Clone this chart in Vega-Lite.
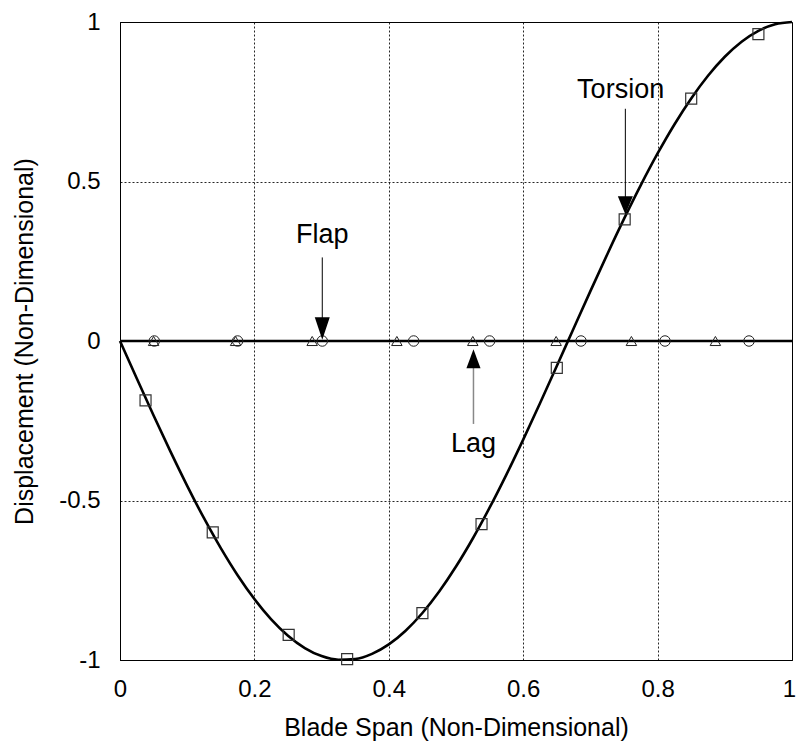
{
  "$schema": "https://vega.github.io/schema/vega-lite/v6.json",
  "width": 672,
  "height": 638,
  "autosize": {"type": "none"},
  "padding": {"left": 120, "top": 22, "right": 4, "bottom": 88},
  "background": "white",
  "config": {
    "view": {"stroke": "black", "strokeWidth": 1},
    "font": "Liberation Sans",
    "axis": {
      "domainColor": "black",
      "domainWidth": 1,
      "gridColor": "black",
      "gridDash": [2, 2],
      "gridWidth": 1,
      "gridOpacity": 0.85,
      "ticks": false,
      "labelFont": "Liberation Sans",
      "labelFontSize": 24,
      "labelColor": "black",
      "titleFont": "Liberation Sans",
      "titleFontSize": 25,
      "titleFontWeight": "normal",
      "titleColor": "black"
    }
  },
  "datasets": {
    "torsion_curve": [
      {"span": 0, "disp": 0}, {"span": 0.025, "disp": -0.1175}, {"span": 0.05, "disp": -0.2334},
      {"span": 0.075, "disp": -0.3461}, {"span": 0.1, "disp": -0.454}, {"span": 0.125, "disp": -0.5556},
      {"span": 0.15, "disp": -0.6494}, {"span": 0.175, "disp": -0.7343}, {"span": 0.2, "disp": -0.809},
      {"span": 0.225, "disp": -0.8725}, {"span": 0.25, "disp": -0.9239}, {"span": 0.275, "disp": -0.9625},
      {"span": 0.3, "disp": -0.9877}, {"span": 0.325, "disp": -0.9992}, {"span": 0.35, "disp": -0.9969},
      {"span": 0.375, "disp": -0.9808}, {"span": 0.4, "disp": -0.9511}, {"span": 0.425, "disp": -0.9081},
      {"span": 0.45, "disp": -0.8526}, {"span": 0.475, "disp": -0.7853}, {"span": 0.5, "disp": -0.7071},
      {"span": 0.525, "disp": -0.6191}, {"span": 0.55, "disp": -0.5225}, {"span": 0.575, "disp": -0.4187},
      {"span": 0.6, "disp": -0.309}, {"span": 0.625, "disp": -0.1951}, {"span": 0.65, "disp": -0.0785},
      {"span": 0.675, "disp": 0.0393}, {"span": 0.7, "disp": 0.1564}, {"span": 0.725, "disp": 0.2714},
      {"span": 0.75, "disp": 0.3827}, {"span": 0.775, "disp": 0.4886}, {"span": 0.8, "disp": 0.5878},
      {"span": 0.825, "disp": 0.6788}, {"span": 0.85, "disp": 0.7604}, {"span": 0.875, "disp": 0.8315},
      {"span": 0.9, "disp": 0.891}, {"span": 0.925, "disp": 0.9382}, {"span": 0.95, "disp": 0.9724},
      {"span": 0.975, "disp": 0.9931}, {"span": 1, "disp": 1}
    ],
    "flap_lag_curve": [
      {"span": 0, "disp": 0}, {"span": 1, "disp": 0}
    ],
    "flap_points": [
      {"span": 0.051, "disp": 0}, {"span": 0.175, "disp": 0}, {"span": 0.301, "disp": 0},
      {"span": 0.437, "disp": 0}, {"span": 0.55, "disp": 0}, {"span": 0.686, "disp": 0},
      {"span": 0.811, "disp": 0}, {"span": 0.936, "disp": 0}
    ],
    "lag_points": [
      {"span": 0.05, "disp": 0}, {"span": 0.172, "disp": 0}, {"span": 0.286, "disp": 0},
      {"span": 0.412, "disp": 0}, {"span": 0.525, "disp": 0}, {"span": 0.649, "disp": 0},
      {"span": 0.761, "disp": 0}, {"span": 0.886, "disp": 0}
    ],
    "torsion_points": [
      {"span": 0.038, "disp": -0.186}, {"span": 0.138, "disp": -0.6}, {"span": 0.251, "disp": -0.921},
      {"span": 0.338, "disp": -0.997}, {"span": 0.45, "disp": -0.853}, {"span": 0.538, "disp": -0.574},
      {"span": 0.65, "disp": -0.084}, {"span": 0.751, "disp": 0.381}, {"span": 0.85, "disp": 0.76},
      {"span": 0.95, "disp": 0.962}
    ],
    "labels": [
      {"label": "Flap", "span": 0.301, "disp": 0.306},
      {"label": "Lag", "span": 0.526, "disp": -0.348},
      {"label": "Torsion", "span": 0.745, "disp": 0.763}
    ],
    "shafts": [
      {"label": "Flap", "span": 0.301, "top": 0.262, "bottom": 0.07},
      {"label": "Torsion", "span": 0.752, "top": 0.728, "bottom": 0.45}
    ],
    "lag_shaft": [
      {"label": "Lag", "span": 0.526, "top": -0.08, "bottom": -0.26}
    ],
    "flap_head": [{"span": 0.301, "disp": 0.004}],
    "torsion_head": [{"span": 0.752, "disp": 0.397}],
    "lag_head": [{"span": 0.526, "disp": -0.026}]
  },
  "layer": [
    {
      "data": {"name": "flap_lag_curve"},
      "mark": {"type": "line", "color": "black", "strokeWidth": 2.6},
      "encoding": {
        "x": {
          "field": "span", "type": "quantitative",
          "scale": {"domain": [0, 1], "nice": false, "zero": false},
          "axis": {
            "title": "Blade Span (Non-Dimensional)",
            "values": [0, 0.2, 0.4, 0.6, 0.8, 1],
            "labelExpr": "toString(datum.value)",
            "labelPadding": 17,
            "labelFlush": false,
            "labelOffset": {"condition": {"test": "datum.value == 1", "value": -3}, "value": 0},
            "titleBaseline": "alphabetic",
            "titleY": 75
          }
        },
        "y": {
          "field": "disp", "type": "quantitative",
          "scale": {"domain": [-1, 1], "nice": false, "zero": false},
          "axis": {
            "title": "Displacement (Non-Dimensional)",
            "values": [-1, -0.5, 0, 0.5, 1],
            "labelExpr": "toString(datum.value)",
            "labelPadding": 20,
            "labelFlush": false,
            "titleAngle": -90,
            "titleBaseline": "top",
            "titleX": -108
          }
        }
      }
    },
    {
      "data": {"name": "torsion_curve"},
      "mark": {"type": "line", "color": "black", "strokeWidth": 2.6, "interpolate": "monotone"},
      "encoding": {
        "x": {"field": "span", "type": "quantitative"},
        "y": {"field": "disp", "type": "quantitative"}
      }
    },
    {
      "data": {"name": "flap_points"},
      "mark": {"type": "point", "shape": "circle", "filled": false, "stroke": "#222", "strokeWidth": 1, "size": 110, "opacity": 1},
      "encoding": {
        "x": {"field": "span", "type": "quantitative"},
        "y": {"field": "disp", "type": "quantitative"}
      }
    },
    {
      "data": {"name": "lag_points"},
      "mark": {"type": "point", "shape": "triangle-up", "filled": false, "stroke": "#222", "strokeWidth": 1, "size": 110, "opacity": 1},
      "encoding": {
        "x": {"field": "span", "type": "quantitative"},
        "y": {"field": "disp", "type": "quantitative"}
      }
    },
    {
      "data": {"name": "torsion_points"},
      "mark": {"type": "point", "shape": "square", "filled": false, "stroke": "#333", "strokeWidth": 1.2, "size": 121, "opacity": 1},
      "encoding": {
        "x": {"field": "span", "type": "quantitative"},
        "y": {"field": "disp", "type": "quantitative"}
      }
    },
    {
      "data": {"name": "shafts"},
      "mark": {"type": "rule", "color": "black", "strokeWidth": 1},
      "encoding": {
        "x": {"field": "span", "type": "quantitative"},
        "y": {"field": "top", "type": "quantitative"},
        "y2": {"field": "bottom"}
      }
    },
    {
      "data": {"name": "lag_shaft"},
      "mark": {"type": "rule", "color": "#888", "strokeWidth": 1.5},
      "encoding": {
        "x": {"field": "span", "type": "quantitative"},
        "y": {"field": "top", "type": "quantitative"},
        "y2": {"field": "bottom"}
      }
    },
    {
      "data": {"name": "flap_head"},
      "mark": {"type": "point", "shape": "M-0.5,-1.5L0.5,-1.5L0,0Z", "filled": true, "fill": "black", "strokeWidth": 0, "size": 900, "opacity": 1},
      "encoding": {
        "x": {"field": "span", "type": "quantitative"},
        "y": {"field": "disp", "type": "quantitative"}
      }
    },
    {
      "data": {"name": "torsion_head"},
      "mark": {"type": "point", "shape": "M-0.5,-1.2L0.5,-1.2L0,0Z", "filled": true, "fill": "black", "strokeWidth": 0, "size": 900, "opacity": 1},
      "encoding": {
        "x": {"field": "span", "type": "quantitative"},
        "y": {"field": "disp", "type": "quantitative"}
      }
    },
    {
      "data": {"name": "lag_head"},
      "mark": {"type": "point", "shape": "M-0.47,1.27L0.47,1.27L0,0Z", "filled": true, "fill": "black", "strokeWidth": 0, "size": 900, "opacity": 1},
      "encoding": {
        "x": {"field": "span", "type": "quantitative"},
        "y": {"field": "disp", "type": "quantitative"}
      }
    },
    {
      "data": {"name": "labels"},
      "mark": {"type": "text", "font": "Liberation Sans", "fontSize": 27, "color": "black", "align": "center", "baseline": "alphabetic"},
      "encoding": {
        "x": {"field": "span", "type": "quantitative"},
        "y": {"field": "disp", "type": "quantitative"},
        "text": {"field": "label"}
      }
    }
  ]
}
